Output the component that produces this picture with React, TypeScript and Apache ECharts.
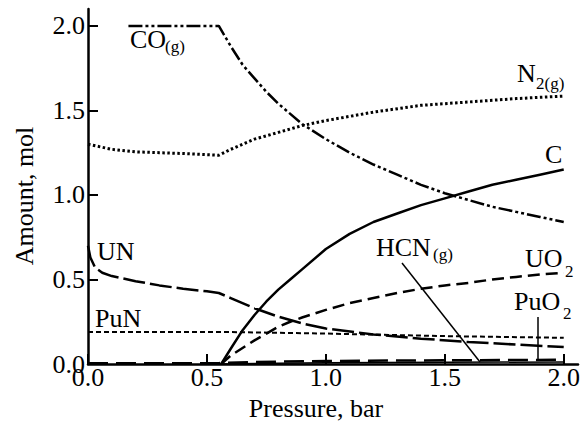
import React, { useEffect, useRef } from "react";
import * as echarts from "echarts";

// Equilibrium amounts (mol) versus pressure (bar)
const coP = [0.17, 0.55, 0.6, 0.65, 0.7, 0.75, 0.8, 0.9, 1.0, 1.1, 1.2, 1.3, 1.4, 1.5, 1.6, 1.7, 1.8, 1.9, 2.0];
const coAmt = [2.0, 2.0, 1.88, 1.77, 1.69, 1.61, 1.54, 1.42, 1.33, 1.25, 1.18, 1.12, 1.06, 1.01, 0.97, 0.93, 0.9, 0.87, 0.84];

const n2P = [0, 0.1, 0.2, 0.3, 0.4, 0.55, 0.6, 0.7, 0.8, 0.9, 1.0, 1.2, 1.4, 1.6, 1.8, 2.0];
const n2Amt = [1.3, 1.27, 1.255, 1.25, 1.245, 1.235, 1.27, 1.33, 1.37, 1.41, 1.44, 1.49, 1.53, 1.55, 1.57, 1.585];

const cP = [0.56, 0.6, 0.65, 0.7, 0.75, 0.8, 0.85, 0.9, 1.0, 1.1, 1.2, 1.3, 1.4, 1.5, 1.6, 1.7, 1.8, 1.9, 2.0];
const cAmt = [0, 0.09, 0.2, 0.29, 0.37, 0.44, 0.5, 0.56, 0.68, 0.77, 0.84, 0.89, 0.94, 0.98, 1.02, 1.06, 1.09, 1.12, 1.15];

const unP = [0, 0.01, 0.03, 0.06, 0.1, 0.2, 0.3, 0.4, 0.5, 0.55, 0.6, 0.7, 0.8, 0.9, 1.0, 1.2, 1.4, 1.6, 1.8, 2.0];
const unAmt = [0.7, 0.63, 0.57, 0.54, 0.52, 0.49, 0.465, 0.445, 0.43, 0.42, 0.39, 0.33, 0.28, 0.24, 0.21, 0.175, 0.15, 0.13, 0.115, 0.1];

const uo2P = [0.56, 0.6, 0.7, 0.75, 0.8, 0.85, 0.9, 1.0, 1.1, 1.2, 1.3, 1.4, 1.5, 1.6, 1.7, 1.8, 1.9, 2.0];
const uo2Amt = [0, 0.05, 0.14, 0.18, 0.22, 0.25, 0.275, 0.32, 0.36, 0.39, 0.42, 0.445, 0.465, 0.48, 0.5, 0.515, 0.53, 0.54];

const punP = [0, 0.55, 1.0, 1.5, 2.0];
const punAmt = [0.19, 0.19, 0.18, 0.165, 0.155];

const puo2P = [0, 0.55, 0.7, 1.0, 1.5, 2.0];
const puo2Amt = [0.005, 0.005, 0.012, 0.018, 0.022, 0.025];

const hcnP = [0.55, 1.0, 1.5, 2.0];
const hcnAmt = [0, 0.008, 0.01, 0.012];

const tickValues = [0, 0.5, 1.0, 1.5, 2.0];

const FONT = "'Liberation Serif', 'Times New Roman', Times, serif";

const pairs = (xs: number[], ys: number[]) => xs.map((x, i) => [x, ys[i]]);

function lineSeries(name: string, xs: number[], ys: number[], type: any, width: number) {
  return {
    name,
    type: "line",
    data: pairs(xs, ys),
    showSymbol: false,
    symbol: "none",
    smooth: false,
    lineStyle: { color: "#000", width, type, cap: "butt" },
    z: 3,
  };
}

function label(text: string, x: number, baseline: number, size = 26) {
  return {
    type: "text",
    x,
    y: baseline - 0.3375 * size,
    style: { text, fontFamily: FONT, fontSize: size, fill: "#000", align: "left", verticalAlign: "middle" },
    z: 10,
  };
}

export default function App() {
  const ref = useRef<HTMLDivElement>(null);

  useEffect(() => {
    if (!ref.current) return;
    const chart = echarts.init(ref.current, null, { renderer: "svg" });
    const axisCommon = {
      type: "value",
      interval: 0.5,
      splitLine: { show: false },
      axisLine: { show: true, onZero: false, lineStyle: { color: "#000", width: 2.5 } },
      axisTick: { show: true, inside: true, length: 10, customValues: tickValues, lineStyle: { color: "#000", width: 2 } },
      axisLabel: {
        customValues: tickValues,
        color: "#000",
        fontFamily: FONT,
        fontSize: 26,
        formatter: (v: number) => v.toFixed(1),
      },
    };
    chart.setOption({
      animation: false,
      backgroundColor: "#fff",
      grid: { left: 88, right: 9, top: 9, bottom: 60, containLabel: false, outerBoundsMode: "none" },
      xAxis: { ...axisCommon, min: 0, max: 2.06, axisLabel: { ...axisCommon.axisLabel, margin: 0 } },
      yAxis: { ...axisCommon, min: 0, max: 2.1, axisLabel: { ...axisCommon.axisLabel, margin: 3 } },
      series: [
        lineSeries("CO(g)", coP, coAmt, [14, 3, 3, 3, 3, 3], 2.5),
        lineSeries("N2(g)", n2P, n2Amt, [2.5, 2.5], 3),
        lineSeries("C", cP, cAmt, "solid", 2.5),
        lineSeries("UN", unP, unAmt, [22, 5], 2.5),
        lineSeries("UO2", uo2P, uo2Amt, [12, 6], 2.5),
        lineSeries("PuN", punP, punAmt, [5, 3], 2),
        lineSeries("PuO2", puo2P, puo2Amt, [20, 8], 2.5),
        lineSeries("HCN(g)", hcnP, hcnAmt, "solid", 1.5),
      ],
      graphic: [
        {
          type: "text",
          x: 24,
          y: 196,
          rotation: Math.PI / 2,
          style: { text: "Amount, mol", fontFamily: FONT, fontSize: 26, fill: "#000", align: "center", verticalAlign: "middle" },
        },
        {
          type: "text",
          x: 316,
          y: 408,
          style: { text: "Pressure, bar", fontFamily: FONT, fontSize: 26, fill: "#000", align: "center", verticalAlign: "middle" },
        },
        label("CO", 130, 48),
        label("(g)", 165, 52, 17),
        label("N", 517, 82),
        label("2(g)", 536, 89, 17),
        label("C", 545, 163),
        label("UN", 97, 260),
        label("PuN", 95, 327),
        label("HCN", 376, 256),
        label("(g)", 433, 260, 17),
        label("UO", 525, 267),
        label("2", 565, 277, 17),
        label("PuO", 514, 310),
        label("2", 563, 319, 17),
        { type: "line", shape: { x1: 402, y1: 263, x2: 480, y2: 362 }, style: { stroke: "#000", lineWidth: 1.5 }, z: 10 },
        { type: "line", shape: { x1: 538, y1: 317, x2: 538, y2: 360 }, style: { stroke: "#000", lineWidth: 1.5 }, z: 10 },
      ],
    });
    return () => chart.dispose();
  }, []);

  return <div ref={ref} style={{ width: 587, height: 424, position: "absolute", left: 0, top: 0 }} />;
}
